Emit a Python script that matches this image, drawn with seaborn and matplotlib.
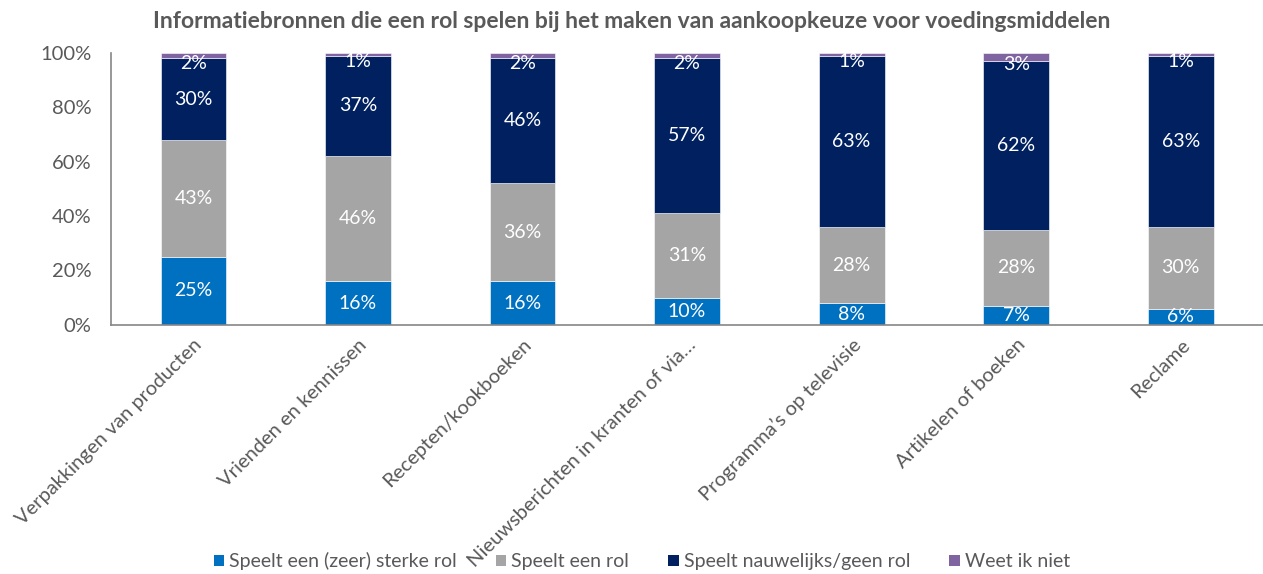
import matplotlib
matplotlib.use("Agg")
import matplotlib.pyplot as plt
import seaborn as sns
import pandas as pd
import numpy as np
from matplotlib.patches import Patch

categories = ["Verpakkingen van producten", "Vrienden en kennissen", "Recepten/kookboeken",
              "Nieuwsberichten in kranten of via…", "Programma’s op televisie",
              "Artikelen of boeken", "Reclame"]
sterke_rol = [25, 16, 16, 10, 8, 7, 6]
een_rol = [43, 46, 36, 31, 28, 28, 30]
geen_rol = [30, 37, 46, 57, 63, 62, 63]
weet_niet = [2, 1, 2, 2, 1, 3, 1]

series_names = ["Speelt een (zeer) sterke rol", "Speelt een rol",
                "Speelt nauwelijks/geen rol", "Weet ik niet"]
series_vals = [sterke_rol, een_rol, geen_rol, weet_niet]
colors = ["#0070C0", "#A5A5A5", "#002060", "#8064A2"]

sns.set_theme(style="white")
plt.rcParams['font.family'] = ['Lato', 'DejaVu Sans']

fig = plt.figure(figsize=(12.63, 5.74), dpi=100)
ax = fig.add_axes([0.088, 0.434, 0.912, 0.474])

text_col = "#595959"
bottom = np.zeros(len(categories))
for k, (name, vals, col) in enumerate(zip(series_names, series_vals, colors)):
    df = pd.DataFrame({"cat": categories, "val": vals})
    sns.barplot(data=df, x="cat", y="val", color=col, bottom=bottom, width=0.4,
                ax=ax, edgecolor="white", linewidth=0.4, saturation=1)
    for i, v in enumerate(vals):
        y = bottom[i] + v / 2
        if k == 3:
            y -= 2.8
        ax.text(i, y, f"{v}%", ha="center", va="center",
                color="white", fontsize=14)
    bottom = bottom + np.array(vals)

ax.set_ylim(0, 100)
ax.set_xlim(-0.5, len(categories) - 0.5)
ax.set_yticks([0, 20, 40, 60, 80, 100])
ax.set_yticklabels([f"{t}%" for t in [0, 20, 40, 60, 80, 100]], color=text_col, fontsize=14.5)
ax.set_xticks(range(len(categories)))
ax.set_xticklabels(categories, rotation=45, ha="right", rotation_mode="anchor",
                   color=text_col, fontsize=14.5)
ax.tick_params(axis="y", length=0, pad=14)
ax.tick_params(axis="x", length=0, pad=8)
ax.set_xlabel("")
ax.set_ylabel("")
for s in ["top", "right"]:
    ax.spines[s].set_visible(False)
for s in ["left", "bottom"]:
    ax.spines[s].set_color("#868686")
    ax.spines[s].set_linewidth(1.2)

fig.text(0.5, 0.962, "Informatiebronnen die een rol spelen bij het maken van aankoopkeuze voor voedingsmiddelen",
         ha="center", va="center", fontsize=16.5, fontweight="bold", color=text_col)

handles = [Patch(facecolor=c, edgecolor="none") for c in colors]
fig.legend(handles, series_names, loc="center", bbox_to_anchor=(0.508, 0.022), ncol=4,
           frameon=False, fontsize=14, labelcolor=text_col, handlelength=0.55,
           handleheight=0.55, handletextpad=0.25, columnspacing=2.0)

fig.savefig("out.png", dpi=100)
